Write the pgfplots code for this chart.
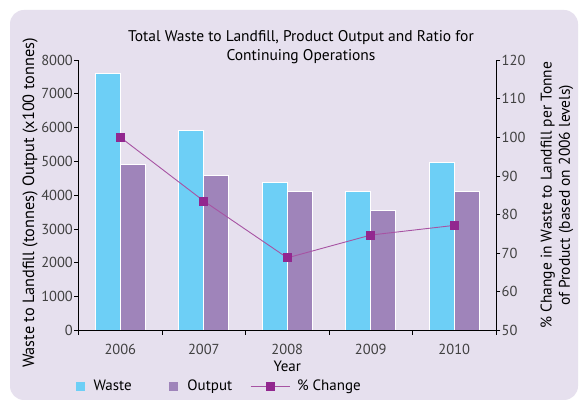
\documentclass[border=0pt]{standalone}
\usepackage{fontspec}
\setmainfont{PT Sans}
\usepackage{pgfplots}
\pgfplotsset{compat=1.18}
\definecolor{bg}{HTML}{E6E0EE}
\definecolor{waste}{HTML}{6DCFF6}
\definecolor{outputc}{HTML}{9F84BA}
\definecolor{chg}{HTML}{92278F}
\definecolor{chgline}{HTML}{A753A3}
\definecolor{ticktext}{HTML}{404040}

\pgfplotsset{
  common/.style={
    at={(78.6pt,78.5pt)}, anchor=south west,
    scale only axis, width=417.4pt, height=270.5pt,
    xmin=-0.5, xmax=4.5,
    axis on top,
    tick align=outside,
    axis line style={-, black, line width=0.8pt},
    major tick length=4.5pt,
    every tick/.style={black, line width=0.8pt},
    tick label style={font=\fontsize{14.5}{16}\selectfont, text=ticktext},
    yticklabel style={inner xsep=1pt},
    /pgf/number format/assume math mode=true,
    /pgf/number format/1000 sep={},
    scaled y ticks=false,
  },
  lineleg/.style={legend image code/.code={\draw[mark repeat=2, mark phase=2, ##1]
    plot coordinates {(0pt,0pt) (19.5pt,0pt) (39pt,0pt)};}},
  sqleg/.style={legend image code/.code={\fill[#1] (0pt,-4pt) rectangle (8pt,4pt);}},
}

\begin{document}
\begin{tikzpicture}
\useasboundingbox (0pt,0pt) rectangle (587pt,409pt);
\fill[white] (0pt,0pt) rectangle (587pt,409pt);
\fill[bg, rounded corners=14pt] (10pt,9pt) rectangle (578pt,399pt);
\node[font=\fontsize{15.5}{19}\selectfont, align=center] at (301pt,362pt)
  {Total Waste to Landfill, Product Output and Ratio for\\Continuing Operations};

\begin{axis}[common,
  ymin=0, ymax=8000,
  axis x line*=bottom, axis y line*=left,
  ybar=0pt, bar width=25pt,
  xtick={-0.5,0.5,1.5,2.5,3.5,4.5},
  xticklabels={2006,2007,2008,2009,2010,{}},
  xticklabel style={xshift=41.74pt, yshift=-5.5pt},
  major x tick style={draw=black, line width=0.8pt},
  ytick={0,1000,...,8000},
  xlabel={Year},
  xlabel style={at={(axis description cs:0.5,-0.131)}, anchor=center,
    font=\fontsize{15}{18}\selectfont},
  ylabel={Waste to Landfill (tonnes) Output (x100 tonnes)},
  ylabel style={at={(axis description cs:-0.1164,0.471)}, anchor=center,
    font=\fontsize{16.3}{18.4}\selectfont},
]
\addplot[fill=waste, draw=white, line width=1pt]
  coordinates {(0,7600) (1,5910) (2,4390) (3,4110) (4,4960)};
\addplot[fill=outputc, draw=white, line width=1pt]
  coordinates {(0,4900) (1,4590) (2,4100) (3,3550) (4,4110)};
\end{axis}

% tick marks at the category boundaries, below the x axis
\begin{axis}[common,
  ymin=0, ymax=1, clip=false,
  axis y line=none, axis x line=none,
]
\addplot[ycomb, black, line width=0.8pt, mark=none]
  coordinates {(-0.5,-0.0166) (0.5,-0.0166) (1.5,-0.0166) (2.5,-0.0166) (3.5,-0.0166) (4.5,-0.0166)};
\end{axis}

\begin{axis}[common,
  ymin=50, ymax=120,
  axis x line=none, axis y line*=right,
  ytick={50,60,...,120},
  ylabel={\% Change in Waste to Landfill per Tonne\\of Product (based on 2006 levels)},
  ylabel style={at={(axis description cs:1.146,0.5)}, anchor=center, align=center,
    font=\fontsize{15.5}{18.4}\selectfont},
  legend columns=-1,
  legend style={at={(axis description cs:-0.0135,-0.2064)}, anchor=west,
    draw=none, fill=none, font=\fontsize{15}{17}\selectfont,
    /tikz/column 1/.style={column sep=7pt},
    /tikz/column 2/.style={column sep=35.4pt},
    /tikz/column 3/.style={column sep=8pt},
    /tikz/column 4/.style={column sep=16pt},
    /tikz/column 5/.style={column sep=5pt}},
]
\addlegendimage{sqleg=waste}
\addlegendentry{Waste}
\addlegendimage{sqleg=outputc}
\addlegendentry{Output}
\addplot[chgline, line width=0.9pt, mark=square*, mark size=4pt,
  mark options={draw=chg, fill=chg}, lineleg]
  coordinates {(0,100) (1,83.5) (2,68.8) (3,74.7) (4,77.2)};
\addlegendentry{\% Change}
\end{axis}
\end{tikzpicture}
\end{document}
